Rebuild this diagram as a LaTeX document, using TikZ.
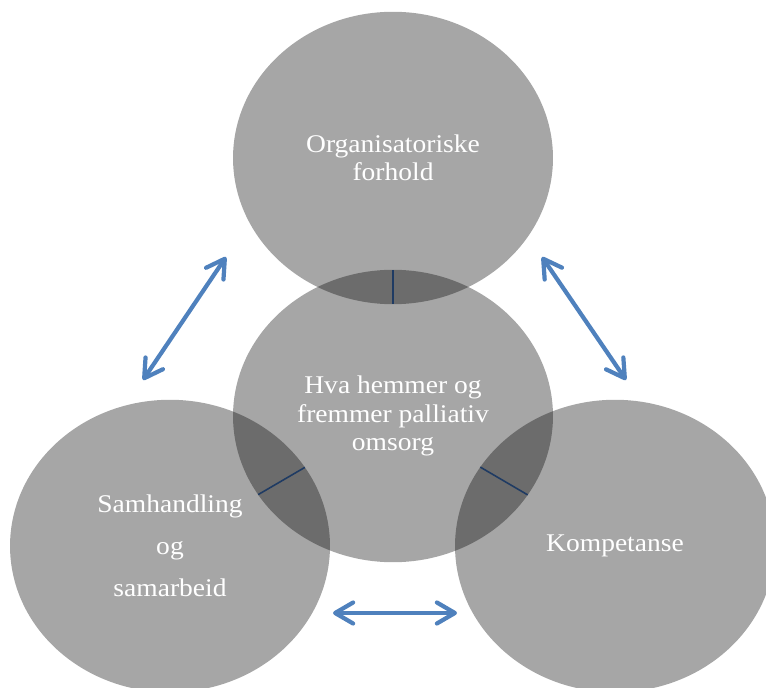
\documentclass[tikz,border=0pt]{standalone}
\usepackage{fontspec}
\setmainfont{Liberation Serif}[FakeStretch=1.08]
\usepackage{tikz}
\usetikzlibrary{arrows.meta,shapes.geometric}
\definecolor{pilblaa}{HTML}{4F81BD}
\definecolor{strekblaa}{HTML}{1F3B63}

\begin{document}
\begin{tikzpicture}[
      x=0.02cm, y=-0.02cm,
      font=\fontsize{14.5}{16}\selectfont,
      sirkel/.style={ellipse, fill=black, fill opacity=0.35, text opacity=1,
                     text=white, align=center, inner sep=0pt, outer sep=0pt,
                     minimum width=6.4cm, minimum height=5.85cm},
      pil/.style={{Straight Barb[length=3.6mm,width=4.2mm,round]}-{Straight Barb[length=3.6mm,width=4.2mm,round]},
                  line width=2.4pt, pilblaa},
      strek/.style={strekblaa, line width=0.9pt}]
    \useasboundingbox (0,0) rectangle (766,688);
    \node[sirkel] (topp) at (393,158) {Organisatoriske\\forhold};
    \node[sirkel] (venstre) at (170,546) {Samhandling\\[8pt] og\\[8pt] samarbeid};
    \node[sirkel] (hoyre) at (615,546) {Kompetanse};
    \node[sirkel] (midt) at (393,416) {Hva hemmer og\\fremmer palliativ\\omsorg};
    \draw[strek] (midt) -- (topp);
    \draw[strek] (midt) -- (venstre);
    \draw[strek] (midt) -- (hoyre);
    \coordinate (v1) at (226,257);
    \coordinate (v2) at (143,380);
    \coordinate (h1) at (542,257);
    \coordinate (h2) at (626,380);
    \coordinate (b1) at (333,613);
    \coordinate (b2) at (457,613);
    \draw[pil] (v1) -- (v2);
    \draw[pil] (h1) -- (h2);
    \draw[pil] (b1) -- (b2);
  \end{tikzpicture}
\end{document}
